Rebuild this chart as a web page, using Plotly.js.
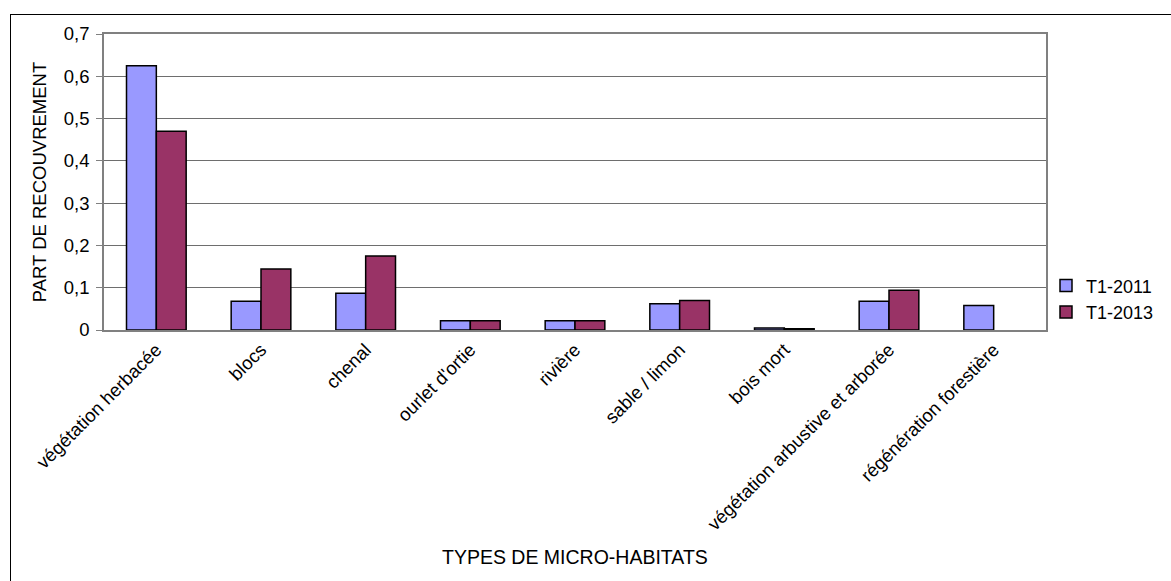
<!DOCTYPE html>
<html>
<head>
<meta charset="utf-8">
<script src="https://cdn.plot.ly/plotly-3.0.1.min.js"></script>
<style>
  html, body { margin: 0; padding: 0; background: #ffffff; overflow: hidden; }
  #frame { position: absolute; left: 10px; top: 14px; width: 1200px; height: 600px;
           border: 1px solid #000000; box-sizing: border-box; }
  #chart { position: absolute; left: 0; top: 0; width: 1171px; height: 581px; }
</style>
</head>
<body>
<div id="frame"></div>
<div id="chart"></div>
<script>
// Micro-habitat categories (x axis)
const categories = [
  "végétation herbacée",
  "blocs",
  "chenal",
  "ourlet d'ortie",
  "rivière",
  "sable / limon",
  "bois mort",
  "végétation arbustive et arborée",
  "régénération forestière"
];

// Share of cover per survey
const seriesNames = ["T1-2011", "T1-2013"];
const cover2011 = [0.625, 0.068, 0.087, 0.022, 0.022, 0.062, 0.005, 0.068, 0.058];
const cover2013 = [0.47, 0.144, 0.175, 0.022, 0.022, 0.07, 0.003, 0.094, null];

const colors = ["#9999FF", "#993366"];

const traces = [cover2011, cover2013].map((vals, i) => ({
  type: "bar",
  name: seriesNames[i],
  x: categories,
  y: vals,
  marker: { color: colors[i], line: { color: "#000000", width: 1.5 } },
  hoverinfo: "x+y+name"
}));

const font = { family: "Liberation Sans, Arial, sans-serif", color: "#000000" };
const f = (size) => Object.assign({ size: size }, font);

const layout = {
  width: 1171,
  height: 581,
  margin: { l: 104, r: 122, t: 34, b: 251, pad: 0 },
  paper_bgcolor: "rgba(0,0,0,0)",
  plot_bgcolor: "#ffffff",
  separators: ", ",
  barmode: "group",
  bargap: 0.43,
  bargroupgap: 0,
  showlegend: true,
  font: f(18),
  legend: {
    x: 1.0,
    xanchor: "left",
    y: 0.105,
    yanchor: "middle",
    font: f(18),
    itemwidth: 30,
    tracegroupgap: 4,
    borderwidth: 0,
    bgcolor: "rgba(0,0,0,0)"
  },
  xaxis: {
    type: "category",
    tickangle: -45,
    tickfont: f(18.5),
    showline: true,
    linecolor: "#808080",
    linewidth: 1.5,
    mirror: true,
    ticks: "",
    showgrid: false,
    zeroline: false
  },
  yaxis: {
    title: { text: "PART DE RECOUVREMENT", font: f(18.5), standoff: 12 },
    range: [0, 0.7],
    dtick: 0.1,
    tick0: 0,
    tickfont: f(18.5),
    ticklabelstandoff: 3,
    ticks: "outside",
    ticklen: 6,
    tickcolor: "#808080",
    showline: true,
    linecolor: "#808080",
    linewidth: 1.5,
    mirror: true,
    showgrid: true,
    gridcolor: "#6e6e6e",
    gridwidth: 1,
    zeroline: false
  },
  annotations: [{
    text: "TYPES DE MICRO-HABITATS",
    xref: "paper", yref: "paper",
    x: 0.5, y: -227 / 296,
    xanchor: "center", yanchor: "middle",
    showarrow: false,
    font: f(19.5)
  }]
};

Plotly.newPlot("chart", traces, layout, { displayModeBar: false, responsive: false });
</script>
</body>
</html>
